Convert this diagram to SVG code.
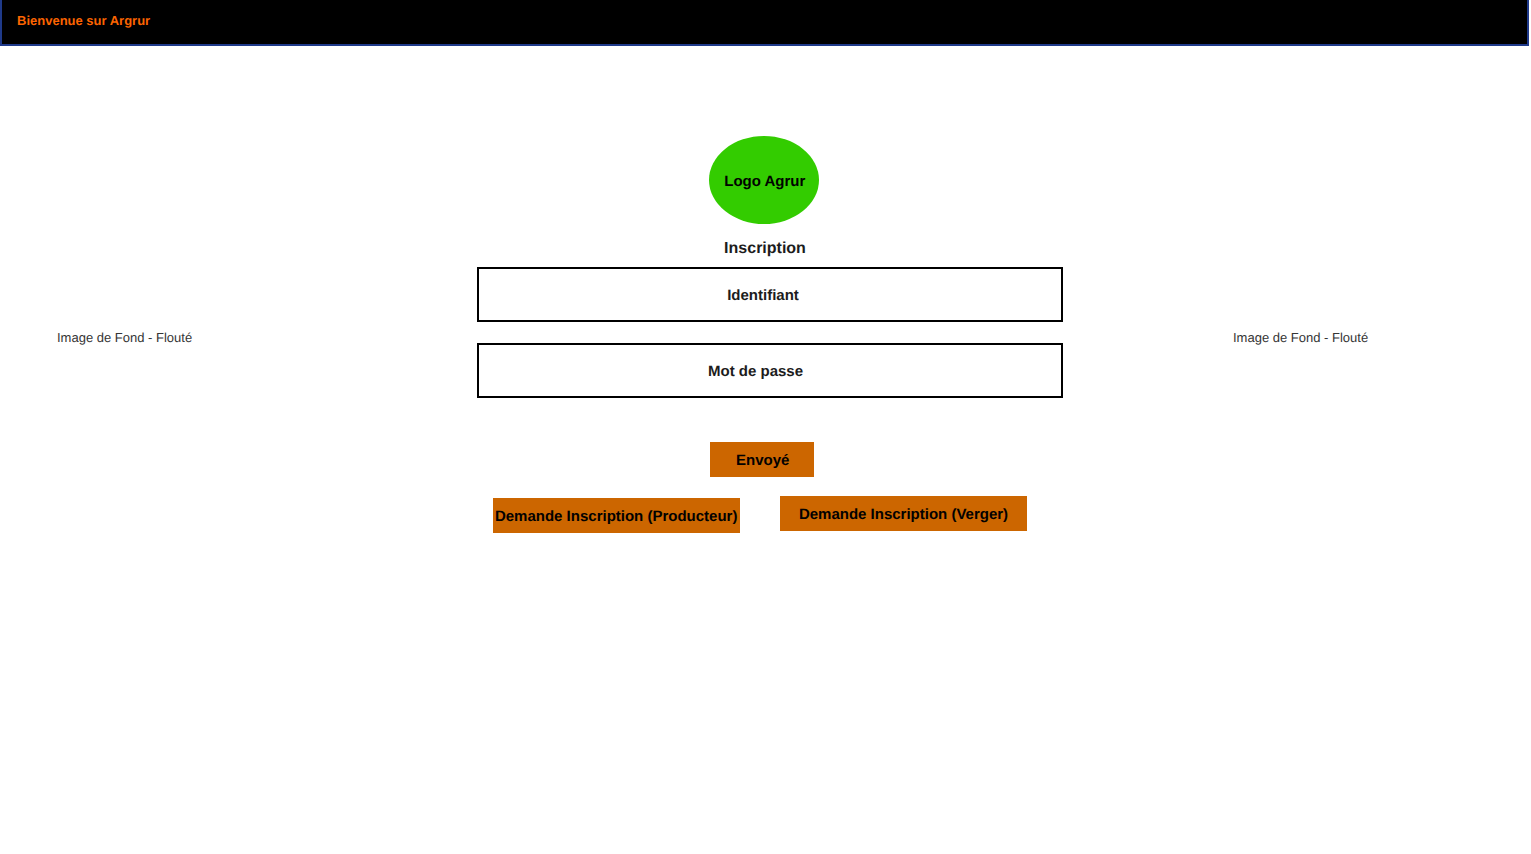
<svg xmlns="http://www.w3.org/2000/svg" width="1531" height="854" viewBox="0 0 1531 854">
<style>
text{font-family:"Liberation Sans",Arial,sans-serif;font-weight:700;fill:#1a1a1a;text-rendering:geometricPrecision;opacity:.99}
.c{text-anchor:middle}
.f{fill:#fff;stroke:#000;stroke-width:2}
.b{fill:#cc6600}
.n{font-weight:400;font-size:13px;fill:#333}
.k{fill:#000}
</style>
<rect width="1531" height="854" fill="#fff"/>
<g id="header">
<rect x="1" y="-1" width="1527" height="46" fill="#000" stroke="#1f3a8a" stroke-width="2"/>
<text x="17" y="25" font-size="13" style="fill:#ff6600">Bienvenue sur Argrur</text>
</g>
<g id="logo">
<ellipse cx="764" cy="180" rx="55" ry="44" fill="#33cc00"/>
<text class="c k" x="764.800" y="186" font-size="15">Logo Agrur</text>
</g>
<g id="title"><text class="c" x="765" y="253" font-size="16">Inscription</text></g>
<g id="identifiant">
<rect class="f" x="478" y="268" width="584" height="53"/>
<text class="c" x="763" y="300" font-size="15">Identifiant</text>
</g>
<g id="motdepasse">
<rect class="f" x="478" y="344" width="584" height="53"/>
<text class="c" x="755.500" y="376" font-size="15">Mot de passe</text>
</g>
<g id="envoye">
<rect class="b" x="710" y="442" width="104" height="35"/>
<text class="c k" x="762.800" y="465" font-size="15">Envoyé</text>
</g>
<g id="producteur">
<rect class="b" x="493" y="498" width="247" height="35"/>
<text class="c k" x="616.200" y="521" font-size="15">Demande Inscription (Producteur)</text>
</g>
<g id="verger">
<rect class="b" x="780" y="496" width="247" height="35"/>
<text class="c k" x="903.500" y="519" font-size="15">Demande Inscription (Verger)</text>
</g>
<g id="fond-gauche"><text class="n" x="57" y="342">Image de Fond - Flouté</text></g>
<g id="fond-droite"><text class="n" x="1233" y="342">Image de Fond - Flouté</text></g>
<g id="connectors"/>
</svg>
